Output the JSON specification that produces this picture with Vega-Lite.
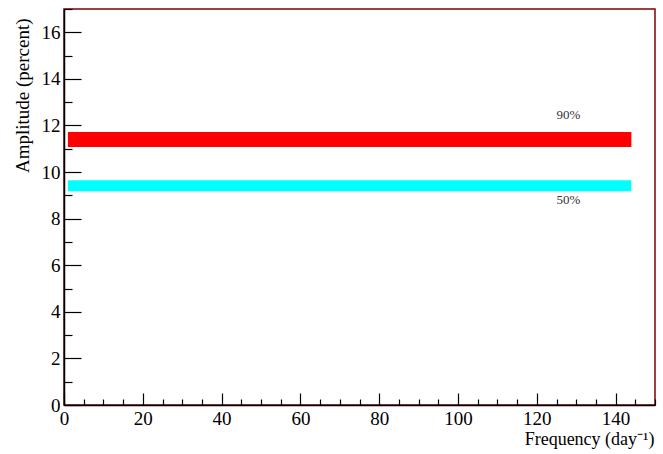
{
  "$schema": "https://vega.github.io/schema/vega-lite/v6.json",
  "autosize": {"type": "none"},
  "padding": {"left": 64, "top": 9, "right": 8, "bottom": 49},
  "width": 591,
  "height": 396,
  "background": "white",
  "config": {
    "view": {"stroke": "#800000", "strokeWidth": 1.5},
    "font": "Liberation Serif",
    "axis": {
      "labelFont": "Liberation Serif",
      "titleFont": "Liberation Serif",
      "labelColor": "#000",
      "titleColor": "#000",
      "titleFontWeight": "normal",
      "domainColor": "#000",
      "domainWidth": 1.5,
      "tickColor": "#000",
      "tickWidth": 1.2,
      "grid": false
    }
  },
  "datasets": {
    "bands": [
      {"level": "90%", "f1": 1, "f2": 144, "a1": 11.08, "a2": 11.72},
      {"level": "50%", "f1": 1, "f2": 144, "a1": 9.18, "a2": 9.65}
    ],
    "labels": [
      {"text": "90%", "f": 128, "a": 12.45},
      {"text": "50%", "f": 128, "a": 8.8}
    ]
  },
  "layer": [
    {
      "data": {"name": "bands"},
      "mark": {"type": "rect"},
      "encoding": {
        "x": {
          "field": "f1", "type": "quantitative",
          "scale": {"domain": [0, 150], "nice": false, "zero": false},
          "axis": {
            "title": "Frequency (day⁻¹)",
            "tickCount": 30,
            "format": "d",
            "labelExpr": "datum.value % 20 === 0 ? datum.label : ''",
            "tickSize": -12,
            "tickDash": {"condition": {"test": "datum.value % 20 === 0", "value": [12, 0]}, "value": [6, 100]},
            "labelPadding": 16,
            "labelFontSize": 19,
            "labelFlush": false,
            "labelOverlap": false,
            "labelBound": false,
            "titleFontSize": 18,
            "titleAnchor": "end",
            "titleAlign": "right",
            "titleBaseline": "alphabetic",
            "titleX": 590,
            "titleY": 39
          }
        },
        "x2": {"field": "f2"},
        "y": {
          "field": "a1", "type": "quantitative",
          "scale": {"domain": [0, 17], "nice": false, "zero": false},
          "axis": {
            "title": "Amplitude (percent)",
            "tickCount": 34,
            "format": "d",
            "labelExpr": "datum.value % 2 === 0 ? datum.label : ''",
            "tickSize": -17,
            "tickDash": {"condition": {"test": "datum.value % 2 === 0", "value": [17, 0]}, "value": [8, 100]},
            "labelPadding": 21,
            "labelFontSize": 19,
            "labelFlush": false,
            "labelOverlap": false,
            "labelBound": false,
            "titleFontSize": 19,
            "titleAnchor": "end",
            "titleAlign": "right",
            "titleAngle": -90,
            "titleBaseline": "alphabetic",
            "titleX": -36,
            "titleY": 9
          }
        },
        "y2": {"field": "a2"},
        "color": {
          "field": "level", "type": "nominal",
          "scale": {"domain": ["90%", "50%"], "range": ["#ff0000", "#00ffff"]},
          "legend": null
        }
      }
    },
    {
      "data": {"name": "labels"},
      "mark": {"type": "text", "font": "Liberation Serif", "fontSize": 13, "color": "#333", "align": "center", "baseline": "middle"},
      "encoding": {
        "x": {"field": "f", "type": "quantitative"},
        "y": {"field": "a", "type": "quantitative"},
        "text": {"field": "text"}
      }
    }
  ]
}
